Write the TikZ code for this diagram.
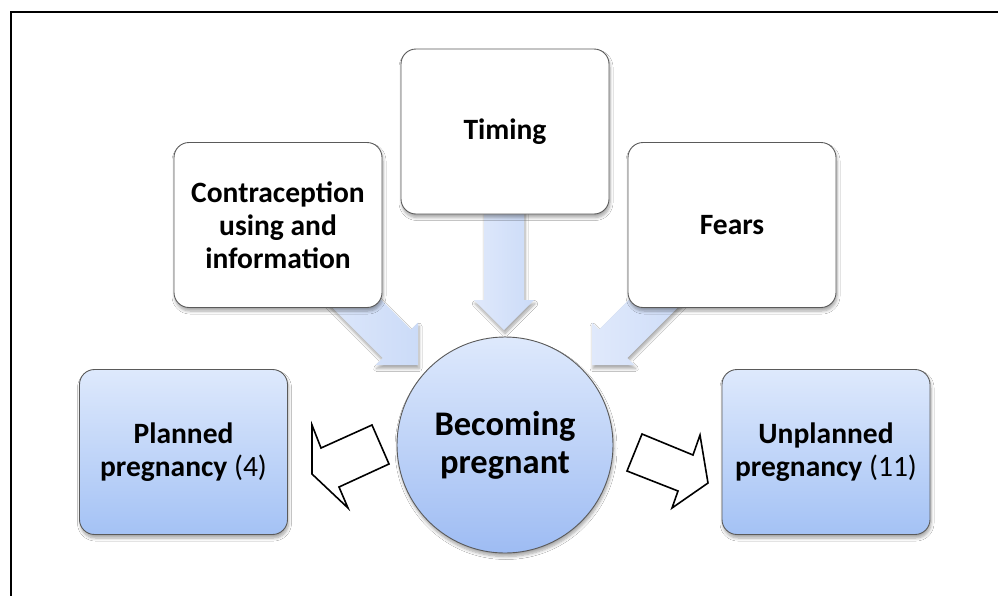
\documentclass[tikz,border=0pt]{standalone}
\usepackage{fontspec}
\setmainfont{Carlito}
\usetikzlibrary{shadows.blur,calc}

\definecolor{boxedge}{RGB}{90,90,90}
\definecolor{bluetop}{RGB}{222,233,252}
\definecolor{bluebot}{RGB}{164,194,245}
\definecolor{hubbot}{RGB}{158,188,243}
\definecolor{arrowlight}{RGB}{224,233,251}
\definecolor{arrowdark}{RGB}{203,219,248}

\tikzset{
  softshadow/.style={blur shadow={shadow xshift=1pt, shadow yshift=-3.5pt,
      shadow blur steps=6, shadow blur radius=3pt, shadow opacity=35}},
  whitebox/.style={draw=boxedge, line width=0.9pt, fill=white,
      rounded corners=15pt, minimum width=208pt, minimum height=165pt,
      align=center, font=\fontsize{29.5}{33}\selectfont\bfseries, softshadow},
  bluebox/.style={whitebox, top color=bluetop, bottom color=bluebot},
  hub/.style={circle, draw=boxedge, line width=0.9pt, minimum size=216pt,
      top color=bluetop, bottom color=hubbot,
      align=center, font=\fontsize{34.5}{38}\selectfont\bfseries, softshadow},
  outlinearrow/.style={draw=black, line width=1.6pt, fill=white, line join=miter},
  % soft blue block arrow, tip at the origin, pointing along +x
  blockarrow/.pic={
    \path[left color=arrowlight, right color=arrowdark, softshadow]
      (0,0) -- (-30,-30) -- (-30,-20) -- (-130,-20) -- (-130,20)
      -- (-30,20) -- (-30,30) -- cycle;
  }
}

\begin{document}
\begin{tikzpicture}[x=1pt, y=-1pt]
  \useasboundingbox (0,0) rectangle (998,595);
  \fill[white] (0,0) rectangle (998,595);

  % outer frame, running past the right and bottom edges
  \draw[line width=2.2pt, black] (11,610) -- (11,12) -- (1010,12);

  % blue arrows feeding the centre, drawn first so the boxes cover their tails
  \coordinate (tipT) at (504,330);
  \coordinate (tipC) at (418,365);
  \coordinate (tipF) at (592,365);
  \pic[rotate=-90] at (tipT) {blockarrow};
  \pic[rotate=-45] at (tipC) {blockarrow};
  \pic[rotate=-135] at (tipF) {blockarrow};

  % influence boxes
  \node[whitebox] (timing) at (505,131.5) {Timing};
  \node[whitebox] (contra) at (278,225) {Contraception\\using and\\information};
  \node[whitebox] (fears) at (732,225) {Fears};

  % outcomes
  \node[bluebox] (planned) at (183.5,452) {Planned\\pregnancy \mdseries(4)};
  \node[bluebox] (unplanned) at (826,452) {Unplanned\\pregnancy \mdseries(11)};

  % centre
  \node[hub] (becoming) at (505,445) {Becoming\\pregnant};

  % outline arrows towards the outcomes
  \draw[outlinearrow] (312,425) -- (321,448) -- (372,425) -- (389,464)
    -- (339,487) -- (348,508) -- (312,474) -- cycle;
  \draw[outlinearrow] (700,435) -- (693,455) -- (642,434) -- (627,471)
    -- (678,491) -- (672,508) -- (708,483) -- cycle;
\end{tikzpicture}
\end{document}
